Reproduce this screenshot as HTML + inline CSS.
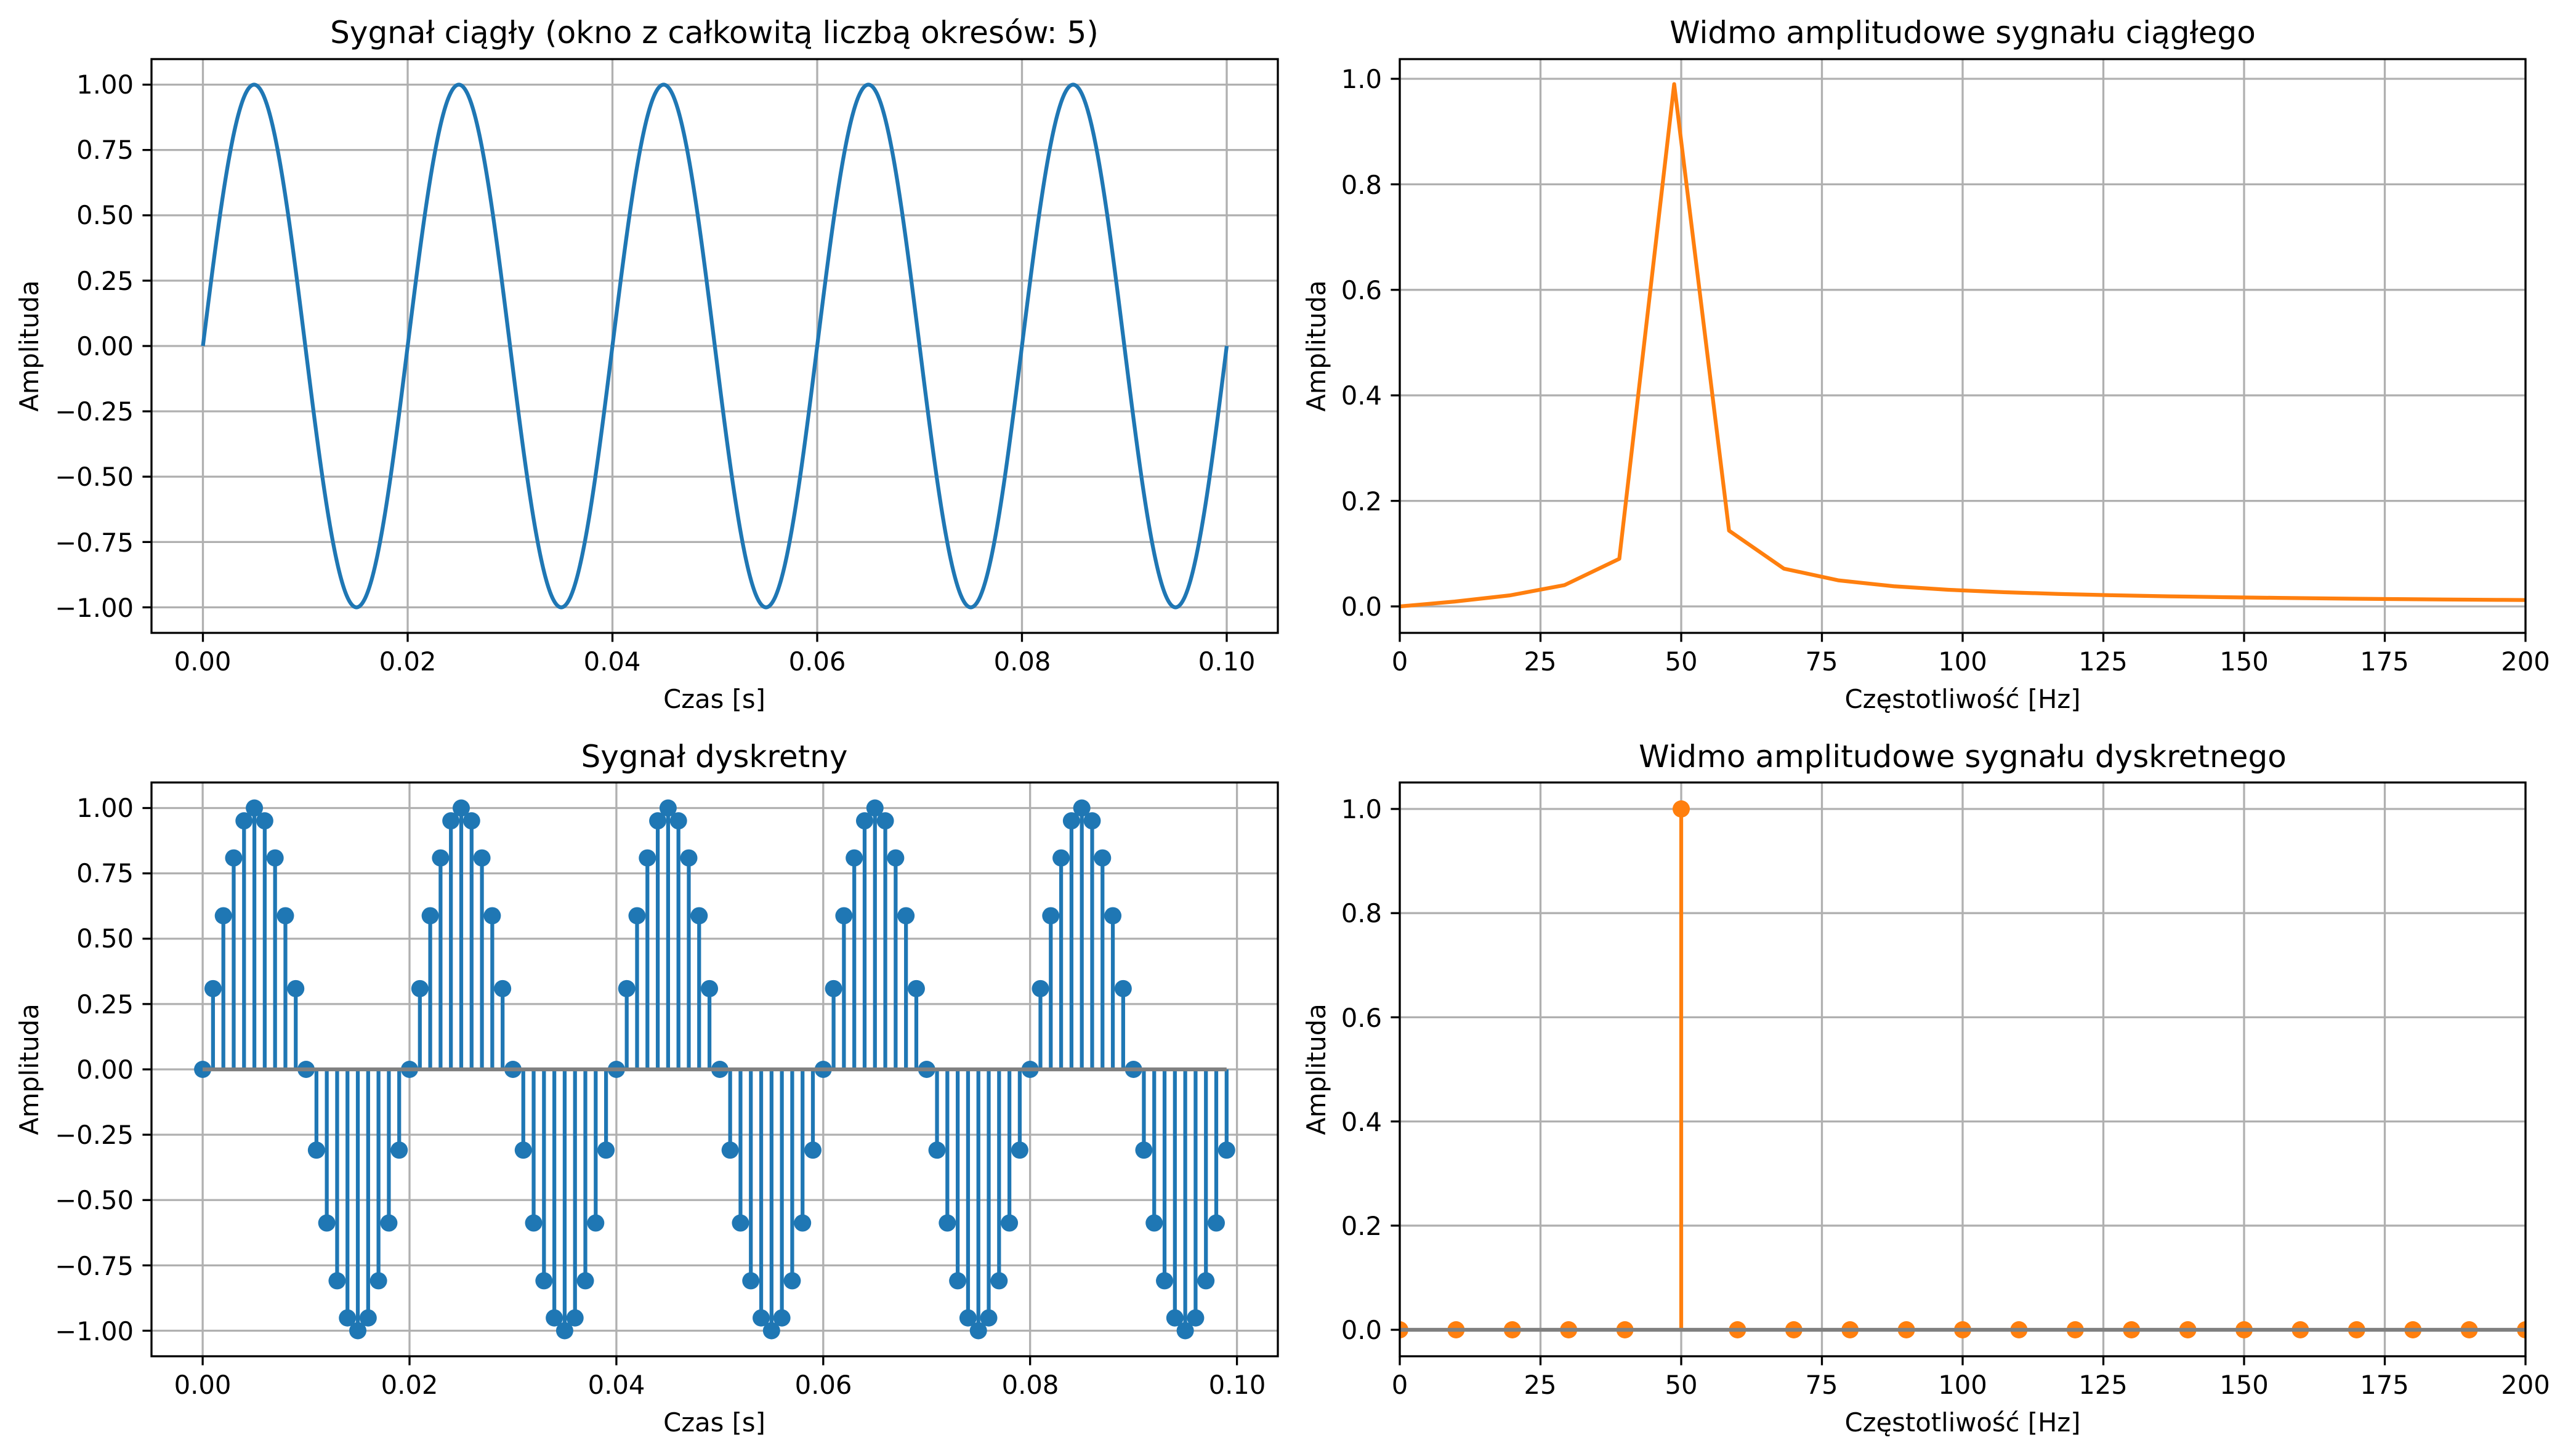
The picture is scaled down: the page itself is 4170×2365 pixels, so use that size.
<!DOCTYPE html>
<html><head><meta charset="utf-8">
<style>
html,body{margin:0;padding:0;background:#fff;}
svg{display:block;}
text{font-family:"DejaVu Sans","Liberation Sans",sans-serif;fill:#000;}
.tk{font-size:41.7px;}
.tt{font-size:50px;}
.lb{font-size:41.7px;}
</style></head>
<body>
<svg id="s" xmlns="http://www.w3.org/2000/svg" width="4170" height="2365" viewBox="0 0 4170 2365">
<rect width="4170" height="2365" fill="#fff"/>
<defs>
<clipPath id="c0"><rect x="246" y="96" width="1829" height="932"/></clipPath>
<clipPath id="c1"><rect x="2273" y="96" width="1828" height="932"/></clipPath>
<clipPath id="c2"><rect x="246" y="1271" width="1829" height="932"/></clipPath>
<clipPath id="c3"><rect x="2273" y="1271" width="1828" height="932"/></clipPath>
</defs>
<g id="grid"></g>
<g id="data"></g>
<g id="spines" fill="none" stroke="#000" stroke-width="3.3">
<rect x="246" y="96" width="1829" height="932"/>
<rect x="2273" y="96" width="1828" height="932"/>
<rect x="246" y="1271" width="1829" height="932"/>
<rect x="2273" y="1271" width="1828" height="932"/>
</g>
<g id="ticks" stroke="#000" stroke-width="3.3"></g>
<text class="tt" x="1160" y="70" text-anchor="middle">Sygnał ciągły (okno z całkowitą liczbą okresów: 5)</text>
<text class="tt" x="3187" y="70" text-anchor="middle">Widmo amplitudowe sygnału ciągłego</text>
<text class="tt" x="1160" y="1246" text-anchor="middle">Sygnał dyskretny</text>
<text class="tt" x="3187" y="1246" text-anchor="middle">Widmo amplitudowe sygnału dyskretnego</text>
<text class="lb" x="1160" y="1150" text-anchor="middle">Czas [s]</text>
<text class="lb" x="3187" y="1150" text-anchor="middle">Częstotliwość [Hz]</text>
<text class="lb" x="1160" y="2325" text-anchor="middle">Czas [s]</text>
<text class="lb" x="3187" y="2325" text-anchor="middle">Częstotliwość [Hz]</text>
<text class="lb" transform="translate(62,562) rotate(-90)" text-anchor="middle">Amplituda</text>
<text class="lb" transform="translate(2152,562) rotate(-90)" text-anchor="middle">Amplituda</text>
<text class="lb" transform="translate(62,1737) rotate(-90)" text-anchor="middle">Amplituda</text>
<text class="lb" transform="translate(2152,1737) rotate(-90)" text-anchor="middle">Amplituda</text>
<g class="tk" text-anchor="end">
<text x="217" y="152">1.00</text><text x="217" y="258">0.75</text><text x="217" y="364">0.50</text><text x="217" y="471">0.25</text><text x="217" y="577">0.00</text><text x="217" y="683">−0.25</text><text x="217" y="789">−0.50</text><text x="217" y="896">−0.75</text><text x="217" y="1002">−1.00</text>
<text x="217" y="1327">1.00</text><text x="217" y="1433">0.75</text><text x="217" y="1539">0.50</text><text x="217" y="1646">0.25</text><text x="217" y="1752">0.00</text><text x="217" y="1858">−0.25</text><text x="217" y="1964">−0.50</text><text x="217" y="2071">−0.75</text><text x="217" y="2177">−1.00</text>
<text x="2244" y="1000">0.0</text><text x="2244" y="829">0.2</text><text x="2244" y="657">0.4</text><text x="2244" y="486">0.6</text><text x="2244" y="315">0.8</text><text x="2244" y="143">1.0</text>
<text x="2244" y="2175">0.0</text><text x="2244" y="2006">0.2</text><text x="2244" y="1837">0.4</text><text x="2244" y="1668">0.6</text><text x="2244" y="1498">0.8</text><text x="2244" y="1329">1.0</text>
</g>
<g class="tk" text-anchor="middle">
<text x="329" y="1089">0.00</text><text x="662" y="1089">0.02</text><text x="994" y="1089">0.04</text><text x="1327" y="1089">0.06</text><text x="1660" y="1089">0.08</text><text x="1992" y="1089">0.10</text>
<text x="329" y="2264">0.00</text><text x="665" y="2264">0.02</text><text x="1001" y="2264">0.04</text><text x="1337" y="2264">0.06</text><text x="1673" y="2264">0.08</text><text x="2009" y="2264">0.10</text>
<text x="2273" y="1089">0</text><text x="2501" y="1089">25</text><text x="2730" y="1089">50</text><text x="2958" y="1089">75</text><text x="3187" y="1089">100</text><text x="3415" y="1089">125</text><text x="3644" y="1089">150</text><text x="3872" y="1089">175</text><text x="4101" y="1089">200</text>
<text x="2273" y="2264">0</text><text x="2501" y="2264">25</text><text x="2730" y="2264">50</text><text x="2958" y="2264">75</text><text x="3187" y="2264">100</text><text x="3415" y="2264">125</text><text x="3644" y="2264">150</text><text x="3872" y="2264">175</text><text x="4101" y="2264">200</text>
</g>
</svg>
<script>
(function(){
var NS='http://www.w3.org/2000/svg';
function el(p,t,a){var e=document.createElementNS(NS,t);for(var k in a)e.setAttribute(k,a[k]);p.appendChild(e);return e;}
var G=document.getElementById('grid'),D=document.getElementById('data'),T=document.getElementById('ticks');
var P=[
 {x0:246,x1:2075,y0:96,y1:1028,fx:function(t){return 329.5+t*16625;},fy:function(v){return 562-424.5*v;},xt:[0,.02,.04,.06,.08,.1],yt:[-1,-.75,-.5,-.25,0,.25,.5,.75,1]},
 {x0:2273,x1:4101,y0:96,y1:1028,fx:function(f){return 2273+f*9.14;},fy:function(v){return 985-857*v;},xt:[0,25,50,75,100,125,150,175,200],yt:[0,.2,.4,.6,.8,1]},
 {x0:246,x1:2075,y0:1271,y1:2203,fx:function(t){return 329.1+t*16795;},fy:function(v){return 1737-424.5*v;},xt:[0,.02,.04,.06,.08,.1],yt:[-1,-.75,-.5,-.25,0,.25,.5,.75,1]},
 {x0:2273,x1:4101,y0:1271,y1:2203,fx:function(f){return 2273+f*9.14;},fy:function(v){return 2160-846*v;},xt:[0,25,50,75,100,125,150,175,200],yt:[0,.2,.4,.6,.8,1]}
];
P.forEach(function(p){
 p.xt.forEach(function(v){var x=p.fx(v);
  el(G,'line',{x1:x,x2:x,y1:p.y0,y2:p.y1,stroke:'#b0b0b0','stroke-width':3.3});
  el(T,'line',{x1:x,x2:x,y1:p.y1,y2:p.y1+14.6});});
 p.yt.forEach(function(v){var y=p.fy(v);
  el(G,'line',{x1:p.x0,x2:p.x1,y1:y,y2:y,stroke:'#b0b0b0','stroke-width':3.3});
  el(T,'line',{x1:p.x0-14.6,x2:p.x0,y1:y,y2:y});});
});
var d='';for(var i=0;i<=2000;i++){var t=i*0.1/2000;d+=(i?'L':'M')+P[0].fx(t).toFixed(2)+' '+P[0].fy(Math.sin(2*Math.PI*50*t)).toFixed(2);}
el(D,'path',{d:d,fill:'none',stroke:'#1f77b4','stroke-width':6.25,'stroke-linejoin':'round','clip-path':'url(#c0)'});
var df=9.75,pts=[];
for(var k=0;k*df<=215;k++){var f=k*df,a;
 if(k==0)a=0;else if(k==5)a=0.99;else a=1.217*Math.abs(1/(f-50)+1/(f+50))*0.93;
 pts.push(P[1].fx(f).toFixed(2)+' '+P[1].fy(a).toFixed(2));}
el(D,'path',{d:'M'+pts.join('L'),fill:'none',stroke:'#ff7f0e','stroke-width':6.25,'stroke-linejoin':'round','clip-path':'url(#c1)'});
var g2=el(D,'g',{'clip-path':'url(#c2)'});
var y0=P[2].fy(0);
for(var n=0;n<100;n++){var t=n*0.001,v=Math.sin(2*Math.PI*50*t),x=P[2].fx(t);
 el(g2,'line',{x1:x,x2:x,y1:y0,y2:P[2].fy(v),stroke:'#1f77b4','stroke-width':6.25});}
for(var n=0;n<100;n++){var t=n*0.001,v=Math.sin(2*Math.PI*50*t);
 el(g2,'circle',{cx:P[2].fx(t),cy:P[2].fy(v),r:14,fill:'#1f77b4'});}
el(g2,'line',{x1:P[2].fx(0),x2:P[2].fx(0.099),y1:y0,y2:y0,stroke:'#808080','stroke-width':6.25});
var g3=el(D,'g',{'clip-path':'url(#c3)'});
var y3=P[3].fy(0);
el(g3,'line',{x1:P[3].fx(50),x2:P[3].fx(50),y1:y3,y2:P[3].fy(1),stroke:'#ff7f0e','stroke-width':6.25});
for(var f=0;f<=200;f+=10){el(g3,'circle',{cx:P[3].fx(f),cy:P[3].fy(f==50?1:0),r:14,fill:'#ff7f0e'});}
el(g3,'line',{x1:P[3].fx(0),x2:P[3].fx(200),y1:y3,y2:y3,stroke:'#808080','stroke-width':6.25});
})();
</script>
</body></html>
